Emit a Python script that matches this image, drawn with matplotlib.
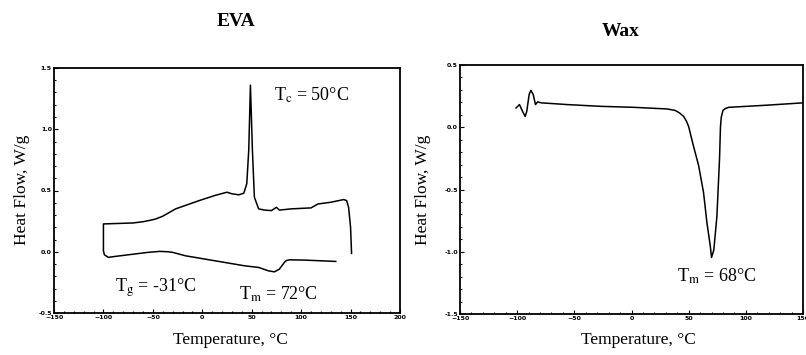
import numpy as np
import matplotlib.pyplot as plt
from matplotlib.ticker import MultipleLocator

# DSC traces (temperature in C, heat flow in W/g)

# EVA: one continuous loop, cooling branch (lower) back to -100 C then heating branch (upper)
eva_temp = [135, 103, 88, 85, 83, 78, 73, 67, 57, 43, 13, -17, -30, -35, -43, -55, -70,
            -90, -95, -99, -100,
            -100, -70, -60, -52, -47, -40, -27, -3, 13, 25, 30, 37, 42, 45, 47, 48.7,
            50.7, 52.7, 57, 63, 70, 75, 78, 90, 110, 117, 130, 143, 146, 148, 150, 151]
eva_flow = [-0.079, -0.068, -0.066, -0.072, -0.087, -0.142, -0.164, -0.156, -0.128,
            -0.115, -0.074, -0.033, -0.005, 0.000, 0.003, -0.005, -0.020,
            -0.040, -0.046, -0.025, 0.008,
            0.227, 0.235, 0.245, 0.258, 0.268, 0.290, 0.350, 0.418, 0.460, 0.486,
            0.473, 0.465, 0.478, 0.555, 0.830, 1.360, 0.830, 0.445, 0.350, 0.340,
            0.336, 0.363, 0.340, 0.350, 0.358, 0.390, 0.404, 0.426, 0.418, 0.363,
            0.200, -0.014]

# Wax: single heating trace with melting endotherm
wax_temp = [-101, -98, -95, -93, -91.6, -89.5, -88, -86, -84, -82, -79, -56, -27, 2,
            31, 38, 42, 45.6, 48, 50, 54, 58.7, 63, 66, 69, 70, 72, 74.7, 77, 77.8,
            78.5, 80, 82, 85, 118, 150]
wax_flow = [0.155, 0.182, 0.122, 0.087, 0.128, 0.264, 0.296, 0.264, 0.182, 0.204,
            0.196, 0.182, 0.168, 0.160, 0.147, 0.136, 0.115, 0.087, 0.050, 0.005,
            -0.144, -0.307, -0.524, -0.769, -0.960, -1.046, -0.986, -0.715, -0.253,
            0.000, 0.080, 0.135, 0.150, 0.160, 0.177, 0.196]

plt.rcParams['font.family'] = ['Liberation Serif', 'DejaVu Serif']
plt.rcParams['mathtext.fontset'] = 'stix'

fig = plt.figure(figsize=(8.06, 3.55), dpi=100)

# axes boxes placed to match the scan (pixel positions / figure size)
ax1 = fig.add_axes([54/806, 1 - 313/355, 346/806, 245/355])
ax2 = fig.add_axes([460/806, 1 - 314/355, 343/806, 249/355])


def style_axes(ax, xlim, ylim):
    ax.set_xlim(*xlim)
    ax.set_ylim(*ylim)
    ax.xaxis.set_major_locator(MultipleLocator(50))
    ax.xaxis.set_minor_locator(MultipleLocator(10))
    ax.yaxis.set_major_locator(MultipleLocator(0.5))
    ax.yaxis.set_minor_locator(MultipleLocator(0.1))
    ax.yaxis.set_major_formatter(plt.FormatStrFormatter('%.1f'))
    ax.tick_params(which='both', direction='in', labelsize=4.5, pad=1.5, width=0.8)
    ax.tick_params(which='major', length=3)
    ax.tick_params(which='minor', length=1.5)
    for lab in ax.get_xticklabels() + ax.get_yticklabels():
        lab.set_fontfamily('DejaVu Sans')
        lab.set_fontweight('bold')
    for sp in ax.spines.values():
        sp.set_linewidth(1.3)


# EVA panel
ax1.plot(eva_temp, eva_flow, color='black', lw=1.1)
style_axes(ax1, (-150, 200), (-0.5, 1.5))
ax1.text(73, 1.28, r'T$_\mathrm{c}$ = 50°C', fontsize=13, va='center')
ax1.text(-88, -0.29, r'T$_\mathrm{g}$ = -31°C', fontsize=13, va='center')
ax1.text(37, -0.35, r'T$_\mathrm{m}$ = 72°C', fontsize=13, va='center')

# Wax panel
ax2.plot(wax_temp, wax_flow, color='black', lw=1.1)
style_axes(ax2, (-150, 150), (-1.5, 0.5))
ax2.text(40, -1.20, r'T$_\mathrm{m}$ = 68°C', fontsize=13, va='center')

# titles and axis labels as figure text
fig.text(236/806, 1 - 21/355, 'EVA', fontsize=14, fontweight='bold', ha='center', va='center')
fig.text(621/806, 1 - 32/355, 'Wax', fontsize=14, fontweight='bold', ha='center', va='center')
fig.text(230/806, 1 - 340/355, 'Temperature, °C', fontsize=12.5, ha='center', va='center')
fig.text(638/806, 1 - 340/355, 'Temperature, °C', fontsize=12.5, ha='center', va='center')
fig.text(22/806, 1 - 190/355, 'Heat Flow, W/g', fontsize=12.5, rotation=90, ha='center', va='center')
fig.text(423/806, 1 - 190/355, 'Heat Flow, W/g', fontsize=12.5, rotation=90, ha='center', va='center')

plt.savefig('out.png', dpi=100)
